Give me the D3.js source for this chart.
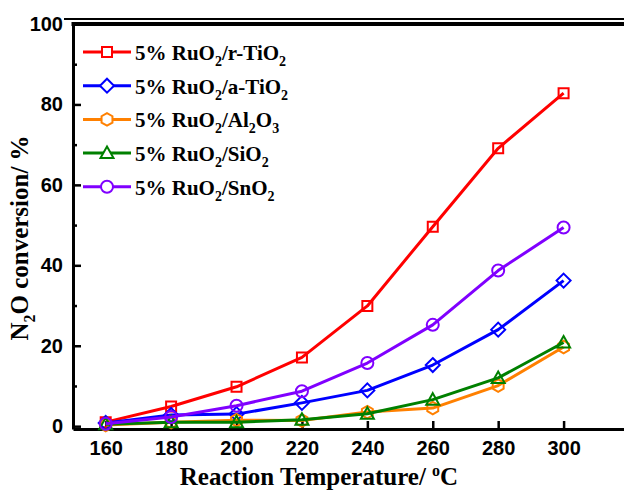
<!DOCTYPE html>
<html>
<head>
<meta charset="utf-8">
<script src="https://cdn.jsdelivr.net/npm/d3@7"></script>
<style>
  body { margin: 0; background: #fff; }
  svg { display: block; }
</style>
</head>
<body>
<div id="chart"></div>
<script>
// N2O conversion vs reaction temperature

let temps = [160, 180, 200, 220, 240, 260, 280, 300];
let rTiO2 = [1.0, 4.9, 9.8, 17.1, 29.9, 49.6, 69.1, 82.8];
let aTiO2 = [0.8, 2.8, 3.0, 5.8, 8.9, 15.2, 24.0, 36.2];
let al2O3 = [0.3, 1.0, 1.5, 1.4, 3.5, 4.5, 10.1, 19.7];
let siO2 = [0.5, 1.0, 1.0, 1.6, 3.1, 6.6, 12.0, 20.8];
let snO2 = [0.6, 2.3, 5.1, 8.7, 15.7, 25.2, 38.7, 49.4];

let seriesNames = ['5% RuO_2/r-TiO_2', '5% RuO_2/a-TiO_2', '5% RuO_2/Al_2O_3', '5% RuO_2/SiO_2', '5% RuO_2/SnO_2'];
let seriesValues = [rTiO2, aTiO2, al2O3, siO2, snO2];
let seriesColors = ['#ff0000', '#0000ff', '#ff8000', '#008000', '#8000ff'];
let seriesShapes = ['square', 'diamond', 'hexagon', 'triangle', 'circle'];

let yTicks = [0, 20, 40, 60, 80, 100];
let yMinor = [10, 30, 50, 70, 90];

let width = 624;
let height = 491;
let serif = '"Liberation Serif", "Times New Roman", serif';
let sans = '"Liberation Sans", Arial, sans-serif';

let svg = d3.select('#chart').append('svg')
  .attr('width', width)
  .attr('height', height);

let x = d3.scaleLinear().domain([150, 320]).range([73, 629]);
let y = d3.scaleLinear().domain([-0.7, 100]).range([429, 24]);

// marker paths, centred on 0,0
let markerPath = (shape) => {
  if (shape === 'square') return 'M-5,-5H5V5H-5Z';
  if (shape === 'diamond') return 'M0,-7L7,0L0,7L-7,0Z';
  if (shape === 'triangle') return 'M0,-6.5L6.5,5L-6.5,5Z';
  if (shape === 'hexagon') {
    let pts = d3.range(6).map((i) => {
      let a = Math.PI / 2 + i * Math.PI / 3;
      return [6.3 * Math.cos(a), -6.3 * Math.sin(a)];
    });
    return 'M' + pts.join('L') + 'Z';
  }
  return d3.symbol(d3.symbolCircle, Math.PI * 36)();
};

// axes
let yAxis = svg.append('g')
  .attr('transform', 'translate(' + x.range()[0] + ',0)')
  .call(d3.axisLeft(y).tickValues(yTicks).tickSize(-8).tickSizeOuter(0).tickPadding(10));

svg.append('g')
  .attr('transform', 'translate(' + x.range()[0] + ',0)')
  .call(d3.axisLeft(y).tickValues(yMinor).tickSize(-4).tickFormat(''))
  .call((g) => g.select('.domain').remove());

let xAxis = svg.append('g')
  .attr('transform', 'translate(0,' + y.range()[0] + ')')
  .call(d3.axisBottom(x).tickValues(temps).tickSize(-8).tickSizeOuter(0).tickPadding(12));

[xAxis, yAxis].forEach((g) => {
  g.select('.domain').attr('stroke-width', 3);
  g.selectAll('.tick line').attr('stroke-width', 2.5);
  g.selectAll('.tick text')
    .style('font-family', sans)
    .style('font-weight', 'bold')
    .style('font-size', '20px')
    .attr('fill', '#000');
});
svg.selectAll('.tick line').attr('stroke-width', 2.5);

// top frame
svg.append('line')
  .attr('x1', x.range()[0] - 1.5).attr('x2', width)
  .attr('y1', y.range()[1]).attr('y2', y.range()[1])
  .attr('stroke', '#000').attr('stroke-width', 4);
svg.append('line')
  .attr('x1', 64).attr('x2', width)
  .attr('y1', 19).attr('y2', 19)
  .attr('stroke', '#000').attr('stroke-width', 2);

// series
let line = d3.line()
  .x((d, i) => x(temps[i]))
  .y((d) => y(d));

seriesValues.forEach((vals, s) => {
  let g = svg.append('g');
  g.append('path')
    .datum(vals)
    .attr('d', line)
    .attr('fill', 'none')
    .attr('stroke', seriesColors[s])
    .attr('stroke-width', 3)
    .attr('stroke-linejoin', 'round');
  g.selectAll('path.mk')
    .data(vals)
    .enter().append('path')
    .attr('class', 'mk')
    .attr('d', markerPath(seriesShapes[s]))
    .attr('transform', (d, i) => 'translate(' + x(temps[i]) + ',' + y(d) + ')')
    .attr('fill', 'none')
    .attr('stroke', seriesColors[s])
    .attr('stroke-width', 2);
});

// text with _x subscripts and ^x superscripts
let richText = (sel, str, size, subSize) => {
  let parts = str.split(/([_^].)/).filter((p) => p.length);
  let shift = 0;
  parts.forEach((p) => {
    let t = sel.append('tspan');
    let target = 0;
    if (p[0] === '_') { target = size * 0.28; t.text(p[1]).style('font-size', subSize + 'px'); }
    else if (p[0] === '^') { target = -size * 0.38; t.text(p[1]).style('font-size', subSize + 'px'); }
    else t.text(p);
    t.attr('dy', target - shift);
    shift = target;
  });
};

// legend
let legend = svg.append('g').attr('transform', 'translate(83,52)');
seriesNames.forEach((name, s) => {
  let row = legend.append('g').attr('transform', 'translate(0,' + (s * 33.7) + ')');
  row.append('line')
    .attr('x1', 0).attr('x2', 48)
    .attr('stroke', seriesColors[s]).attr('stroke-width', 3);
  row.append('path')
    .attr('d', markerPath(seriesShapes[s]))
    .attr('transform', 'translate(24,0)')
    .attr('fill', '#fff')
    .attr('stroke', seriesColors[s])
    .attr('stroke-width', 2);
  let t = row.append('text')
    .attr('x', 52).attr('y', 8)
    .style('font-family', serif)
    .style('font-weight', 'bold')
    .style('font-size', '21px');
  richText(t, name, 21, 14);
});

// axis titles
let xt = svg.append('text')
  .attr('x', 319).attr('y', 485)
  .attr('text-anchor', 'middle')
  .style('font-family', serif)
  .style('font-weight', 'bold')
  .style('font-size', '25px');
richText(xt, 'Reaction Temperature/ ^oC', 25, 16);

let yt = svg.append('text')
  .attr('transform', 'translate(28,238) rotate(-90)')
  .attr('text-anchor', 'middle')
  .style('font-family', serif)
  .style('font-weight', 'bold')
  .style('font-size', '25px');
richText(yt, 'N_2O conversion/ %', 25, 16);
</script>
</body>
</html>
